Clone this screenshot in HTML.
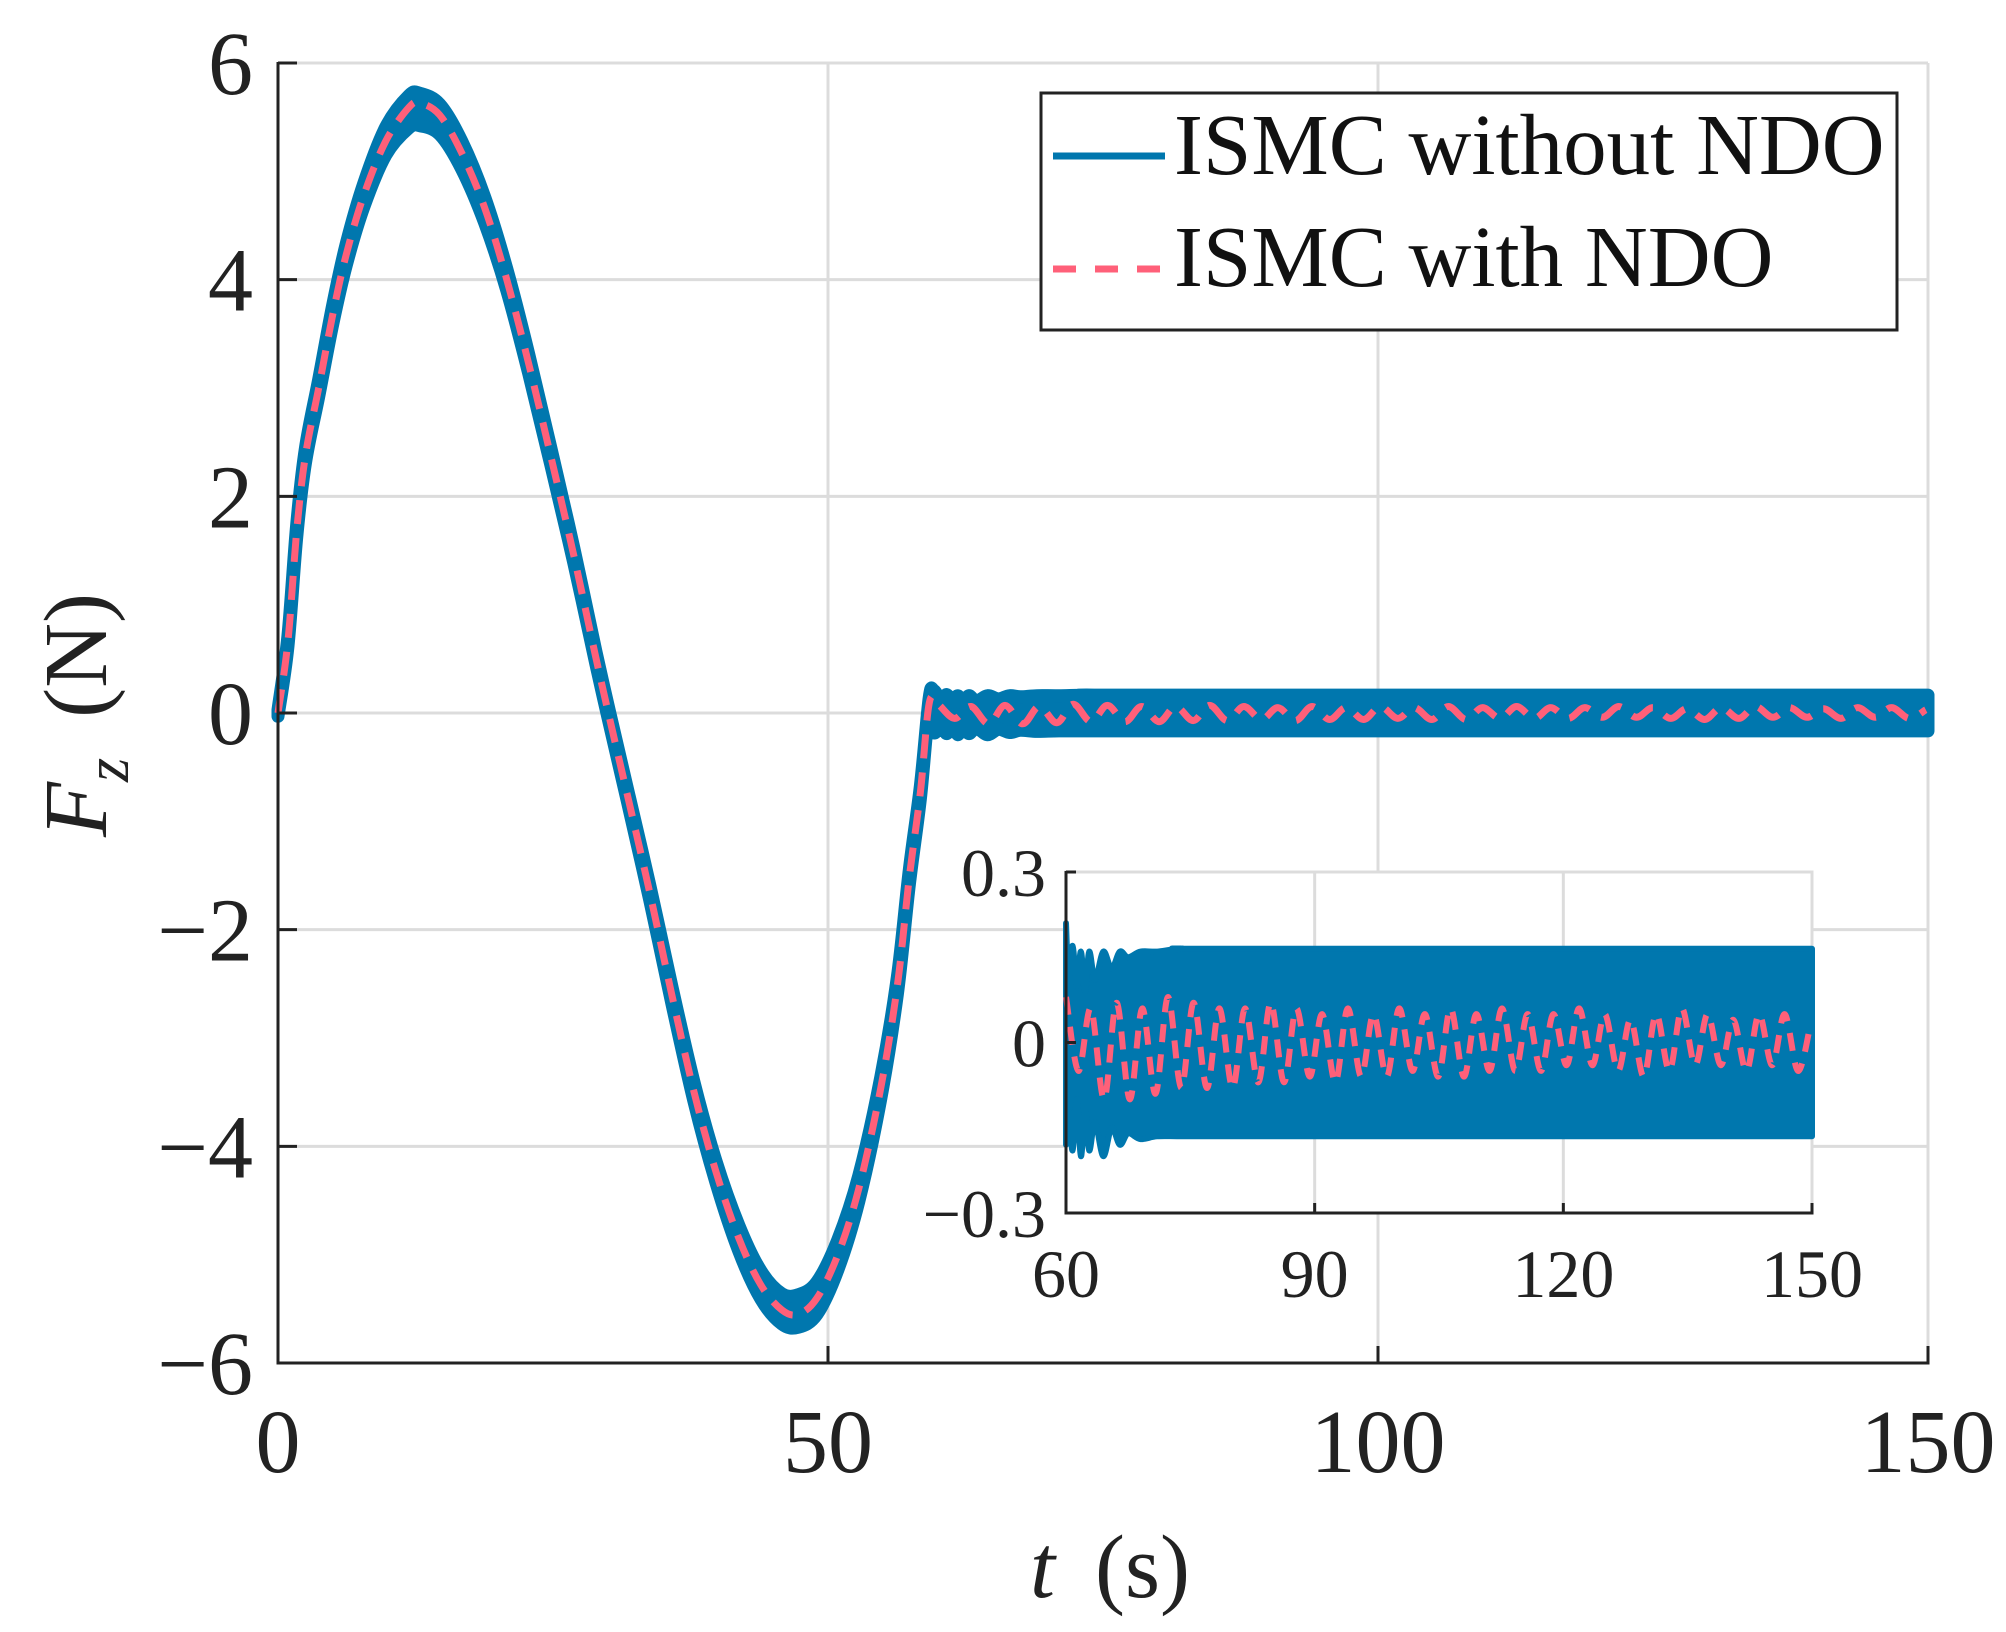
<!DOCTYPE html>
<html><head><meta charset="utf-8"><style>
html,body{margin:0;padding:0;background:#fff;}
svg{display:block;font-family:"Liberation Serif",serif;}
</style></head><body>
<svg id="chart" width="2006" height="1632" viewBox="0 0 2006 1632">
<rect width="2006" height="1632" fill="#fff"/>
<g id="main"></g>
<g id="inset"></g>
</svg>
<script>
// main data
const tTicks=[0,50,100,150];
const fTicks=[6,4,2,0,-2,-4,-6];
const pinkT=[0,0.9,1.7,2.5,3.7,5.0,6.2,7.8,9.8,11.9,12.9,14.7,16.7,18.8,20.8,22.8,24.8,26.9,28.9,30.1,31.7,33.8,35.8,37.8,39.8,41.9,43.9,45.8,47.3,49.0,50.9,52.8,54.8,56.3,57.4,58.4,59.2];
const pinkF=[0,0.66,1.68,2.38,3.0,3.69,4.23,4.78,5.28,5.59,5.63,5.52,5.17,4.66,4.0,3.22,2.37,1.45,0.51,-0.03,-0.73,-1.66,-2.6,-3.49,-4.23,-4.85,-5.28,-5.51,-5.55,-5.4,-5.0,-4.39,-3.46,-2.52,-1.51,-0.73,0.09];
const blueT=[0,0.9,1.7,2.5,3.7,5.0,6.2,7.8,9.8,11.9,12.9,14.7,16.7,18.8,20.8,22.8,24.8,26.9,28.9,30.1,31.7,33.8,35.8,37.8,39.8,41.9,43.9,45.8,47.3,49.0,50.9,52.8,54.8,56.3,57.4,58.4,59.2];
const blueF=[0,0.66,1.68,2.38,3.0,3.69,4.23,4.78,5.28,5.55,5.57,5.48,5.15,4.64,4.0,3.22,2.37,1.45,0.51,-0.03,-0.73,-1.66,-2.6,-3.49,-4.23,-4.85,-5.28,-5.5,-5.52,-5.4,-5.0,-4.39,-3.46,-2.52,-1.51,-0.73,0.09];
const blueAmp=[0.03,0.05,0.06,0.07,0.08,0.09,0.1,0.11,0.13,0.15,0.15,0.14,0.13,0.12,0.1,0.09,0.08,0.07,0.06,0.06,0.06,0.07,0.08,0.09,0.1,0.12,0.13,0.14,0.15,0.15,0.14,0.12,0.1,0.08,0.07,0.06,0.05];
// steady-state (t>=60) data
const envT=[59.6,60.3,60.8,61.3,61.8,62.3,62.8,63.5,64.5,65.5,66.5,67.5,69,71,74,80,150];
const envHi=[0.21,0.12,0.17,0.1,0.16,0.09,0.16,0.11,0.16,0.13,0.16,0.15,0.16,0.16,0.165,0.165,0.165];
const envLo=[-0.18,-0.12,-0.19,-0.1,-0.2,-0.12,-0.19,-0.14,-0.2,-0.15,-0.18,-0.16,-0.17,-0.165,-0.165,-0.165,-0.165];
const pink2T=[60,61.5,63,64.6,66.1,67.7,69.2,70.8,72.3,73.9,75.4,77,78.5,80.1,81.6,83.2,84.7,86.3,87.8,89.4,90.9,92.5,94,95.6,97.1,98.7,100.2,101.8,103.3,104.9,106.4,108,109.5,111.1,112.6,114.2,115.7,117.3,118.8,120.4,121.9,123.5,125,126.6,128.1,129.7,131.2,132.8,134.3,135.9,137.4,139,140.5,142.1,143.6,145.2,146.7,148.3,149.8];
const pink2F=[0.08,-0.05,0.06,-0.1,0.07,-0.1,0.06,-0.09,0.08,-0.08,0.07,-0.08,0.06,-0.08,0.06,-0.07,0.07,-0.07,0.06,-0.06,0.05,-0.07,0.06,-0.06,0.05,-0.06,0.06,-0.05,0.05,-0.06,0.06,-0.06,0.05,-0.05,0.06,-0.05,0.05,-0.05,0.05,-0.04,0.06,-0.04,0.05,-0.05,0.04,-0.06,0.05,-0.05,0.06,-0.04,0.05,-0.04,0.04,-0.05,0.05,-0.04,0.05,-0.05,0.03];
const insetTTicks=[60,90,120,150];
const insetFTicks=[0.3,0,-0.3];

const NS="http://www.w3.org/2000/svg";
const BLUE="#0077ae", PINK="#ff6079";
function mk(parent,tag,attrs,text){const e=document.createElementNS(NS,tag);for(const k in attrs)e.setAttribute(k,attrs[k]);if(text!==undefined)e.textContent=text;parent.appendChild(e);return e;}
function segs(pts){
  let d="";
  for(let i=0;i<pts.length-1;i++){const p0=pts[Math.max(0,i-1)],p1=pts[i],p2=pts[i+1],p3=pts[Math.min(pts.length-1,i+2)];
    const c1=[p1[0]+(p2[0]-p0[0])/6,p1[1]+(p2[1]-p0[1])/6],c2=[p2[0]-(p3[0]-p1[0])/6,p2[1]-(p3[1]-p1[1])/6];
    d+=" C"+c1[0].toFixed(1)+","+c1[1].toFixed(1)+" "+c2[0].toFixed(1)+","+c2[1].toFixed(1)+" "+p2[0].toFixed(1)+","+p2[1].toFixed(1);}
  return d;}
function spline(pts){return "M"+pts[0][0].toFixed(1)+","+pts[0][1].toFixed(1)+segs(pts);}
function band(up,lo){return spline(up)+" L"+lo[0][0].toFixed(1)+","+lo[0][1].toFixed(1)+segs(lo)+"Z";}
function fmt(v){return v<0?"\u2212"+String(-v):String(v);}

// ---- main axes
const X0=278,X1=1928,Y0=63,Y1=1363;
const xs=t=>X0+(t-0)/(150-0)*(X1-X0);
const ys=f=>Y0+(6-f)/(12)*(Y1-Y0);
const g=document.getElementById('main');


tTicks.forEach(t=>{const l=mk(g,'line',{x1:xs(t),x2:xs(t),y1:Y0,y2:Y1,stroke:'#dcdcdc','stroke-width':3});
 
 });
fTicks.forEach(f=>{const l=mk(g,'line',{x1:X0,x2:X1,y1:ys(f),y2:ys(f),stroke:'#dcdcdc','stroke-width':3});
 
 });
// blue band main
{const up=blueT.map((t,i)=>[xs(t),ys(blueF[i]+blueAmp[i])]).concat(envT.map((t,i)=>[xs(t),ys(envHi[i])]));
 const lo=envT.map((t,i)=>[xs(t),ys(envLo[i])]).reverse().concat(blueT.map((t,i)=>[xs(t),ys(blueF[i]-blueAmp[i])]).reverse());
 const p=mk(g,'path',{d:band(up,lo),fill:BLUE,stroke:BLUE,'stroke-width':13,'stroke-linejoin':'round'});
 
 }
// pink main
{const pts=pinkT.map((t,i)=>[xs(t),ys(pinkF[i])]).concat(pink2T.map((t,i)=>[xs(t),ys(pink2F[i])]));
 const p=mk(g,'path',{d:spline(pts),fill:'none',stroke:PINK,'stroke-width':7,'stroke-dasharray':'24 14'});
 
 }
// axes
mk(g,'line',{x1:X0,x2:X0,y1:Y0-1,y2:Y1+1.5,stroke:'#222','stroke-width':3});
mk(g,'line',{x1:X0-1.5,x2:X1+1.5,y1:Y1,y2:Y1,stroke:'#222','stroke-width':3});
tTicks.forEach(t=>{mk(g,'line',{x1:xs(t),x2:xs(t),y1:Y1,y2:Y1-17,stroke:'#222','stroke-width':3});
 const tx=mk(g,'text',{x:xs(t),y:1472,'font-size':90,'text-anchor':'middle',fill:'#222'},String(t));
 
 });
fTicks.forEach(f=>{mk(g,'line',{x1:X0,x2:X0+19,y1:ys(f),y2:ys(f),stroke:'#222','stroke-width':3});
 const tx=mk(g,'text',{x:253,y:ys(f)+31,'font-size':90,'text-anchor':'end',fill:'#222'},fmt(f));
 
 });
{const xl=mk(g,'text',{x:1110,y:1597,'font-size':90,'text-anchor':'middle',fill:'#222'});
 
 
 mk(xl,'tspan',{'font-style':'italic'},'t');
 mk(xl,'tspan',{dx:40},'(s)');
 const yl=mk(g,'text',{x:0,y:0,'font-size':90,'text-anchor':'middle',fill:'#222',transform:'translate(106,715) rotate(-90)'});
 
 
 mk(yl,'tspan',{'font-style':'italic'},'F');
 mk(yl,'tspan',{'font-style':'italic','font-size':62,dy:22},'z');
 mk(yl,'tspan',{dx:40,dy:-22},'(N)');}
// legend
{const lg=mk(g,'g',{});
 
 
 mk(lg,'rect',{x:1041,y:93,width:856,height:237,fill:'#fff',stroke:'#222','stroke-width':3});
 const e1=mk(lg,'g',{});
 
 
 mk(e1,'line',{x1:1053,x2:1165,y1:156,y2:156,stroke:BLUE,'stroke-width':7});
 mk(e1,'text',{x:1174,y:174,'font-size':87,fill:'#111'},'ISMC without NDO');
 const e2=mk(lg,'g',{});
 
 
 mk(e2,'line',{x1:1053,x2:1165,y1:269,y2:269,stroke:PINK,'stroke-width':7,'stroke-dasharray':'23 19'});
 mk(e2,'text',{x:1174,y:286,'font-size':87,fill:'#111'},'ISMC with NDO');}

// ---- inset
const IX0=1066,IX1=1812,IY0=872,IY1=1213;
const ixs=t=>IX0+(t-60)/(150-60)*(IX1-IX0);
const iys=f=>IY0+(0.3-f)/0.6*(IY1-IY0);
const gi=document.getElementById('inset');


mk(gi,'rect',{x:IX0,y:IY0,width:IX1-IX0,height:IY1-IY0,fill:'#fff',stroke:'#dcdcdc','stroke-width':3});
insetTTicks.forEach(t=>{const l=mk(gi,'line',{x1:ixs(t),x2:ixs(t),y1:IY0,y2:IY1,stroke:'#dcdcdc','stroke-width':3});
 
 });
insetFTicks.forEach(f=>{const l=mk(gi,'line',{x1:IX0,x2:IX1,y1:iys(f),y2:iys(f),stroke:'#dcdcdc','stroke-width':3});
 
 });
{const up=envT.map((t,i)=>[ixs(Math.max(60,t)),iys(envHi[i])]);
 const lo=envT.map((t,i)=>[ixs(Math.max(60,t)),iys(envLo[i])]).reverse();
 const p=mk(gi,'path',{d:band(up,lo),fill:BLUE,stroke:BLUE,'stroke-width':6,'stroke-linejoin':'round'});
 
 }
{const pts=pink2T.map((t,i)=>[ixs(t),iys(pink2F[i])]);
 const p=mk(gi,'path',{d:spline(pts),fill:'none',stroke:PINK,'stroke-width':6,'stroke-dasharray':'18 12'});
 
 }
mk(gi,'line',{x1:IX0,x2:IX0,y1:IY0-1,y2:IY1+1.5,stroke:'#222','stroke-width':3});
mk(gi,'line',{x1:IX0-1.5,x2:IX1+1.5,y1:IY1,y2:IY1,stroke:'#222','stroke-width':3});
insetTTicks.forEach(t=>{mk(gi,'line',{x1:ixs(t),x2:ixs(t),y1:IY1,y2:IY1-10,stroke:'#222','stroke-width':3});
 const tx=mk(gi,'text',{x:ixs(t),y:1297,'font-size':68,'text-anchor':'middle',fill:'#222'},String(t));
 
 });
insetFTicks.forEach(f=>{mk(gi,'line',{x1:IX0,x2:IX0+10,y1:iys(f),y2:iys(f),stroke:'#222','stroke-width':3});
 const tx=mk(gi,'text',{x:1046,y:iys(f)+24,'font-size':68,'text-anchor':'end',fill:'#222'},fmt(f));
 
 });
</script>
</body></html>
